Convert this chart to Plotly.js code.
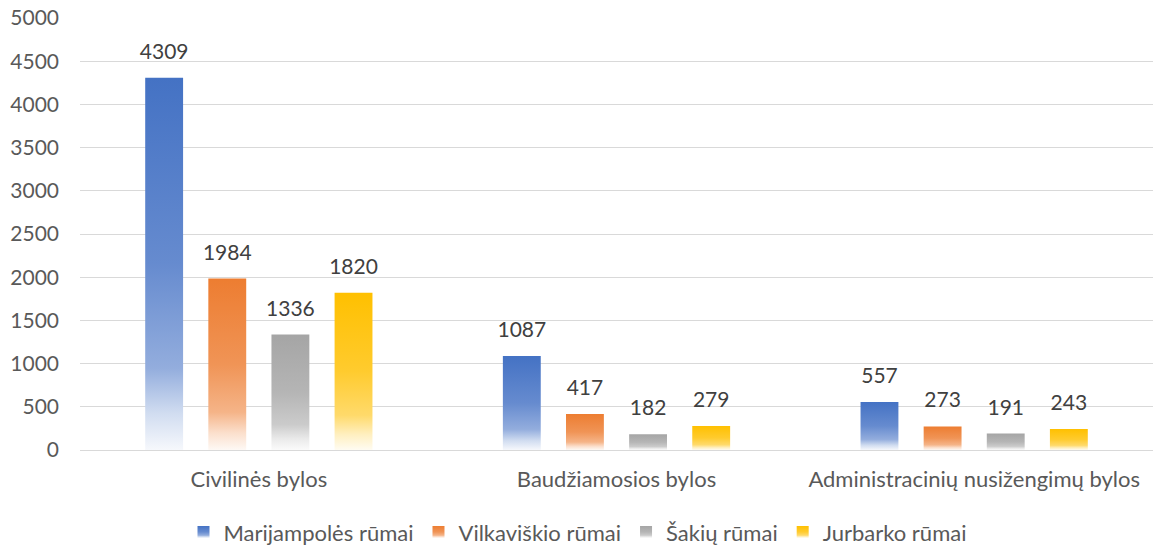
<!DOCTYPE html>
<html>
<head>
<meta charset="utf-8">
<script src="https://cdn.plot.ly/plotly-3.0.1.min.js"></script>
<style>
  html, body { margin: 0; padding: 0; background: #ffffff; }
  #chart { width: 1155px; height: 548px; }
</style>
</head>
<body>
<div id="chart"></div>
<script>
const categories = ['Civilinės bylos', 'Baudžiamosios bylos', 'Administracinių nusižengimų bylos'];
const seriesNames = ['Marijampolės rūmai', 'Vilkaviškio rūmai', 'Šakių rūmai', 'Jurbarko rūmai'];
const marijampole = [4309, 1087, 557];
const vilkaviskis = [1984, 417, 273];
const sakiai = [1336, 182, 191];
const jurbarkas = [1820, 279, 243];
const seriesValues = [marijampole, vilkaviskis, sakiai, jurbarkas];
const seriesColors = ['#4472C4', '#ED7D31', '#A5A5A5', '#FFC000'];
const yTicks = [0, 500, 1000, 1500, 2000, 2500, 3000, 3500, 4000, 4500, 5000];

const FONT = 'Lato, "Open Sans", sans-serif';

const traces = seriesValues.map((vals, i) => ({
  type: 'bar',
  name: seriesNames[i],
  x: categories,
  y: vals,
  text: vals.map(String),
  textposition: 'outside',
  constraintext: 'none',
  cliponaxis: false,
  textfont: { family: FONT, size: 21, color: '#404040' },
  marker: { color: seriesColors[i], line: { width: 0 } },
  hoverinfo: 'skip'
}));

const layout = {
  width: 1155,
  height: 548,
  margin: { l: 80, r: 2, t: 18, b: 98 },
  paper_bgcolor: '#ffffff',
  plot_bgcolor: '#ffffff',
  barmode: 'group',
  bargap: 0.294,
  bargroupgap: 0.4,
  font: { family: FONT, size: 21, color: '#595959' },
  showlegend: true,
  legend: {
    orientation: 'h',
    x: 0.5, xanchor: 'center', xref: 'container',
    y: 0.029, yanchor: 'middle', yref: 'container',
    font: { family: FONT, size: 22, color: '#595959' },
    itemclick: false
  },
  xaxis: {
    type: 'category',
    automargin: false,
    showgrid: false,
    showline: false,
    ticks: '',
    tickfont: { family: FONT, size: 22, color: '#595959' },
    ticklabelstandoff: 14,
    fixedrange: true
  },
  yaxis: {
    range: [0, 5000],
    automargin: false,
    tickvals: yTicks,
    ticktext: yTicks.map(String),
    showgrid: true,
    gridcolor: '#D9D9D9',
    gridwidth: 1,
    zeroline: true,
    zerolinecolor: '#D9D9D9',
    zerolinewidth: 1,
    showline: false,
    ticks: '',
    tickfont: { family: FONT, size: 21, color: '#595959' },
    ticklabelstandoff: 20,
    fixedrange: true
  }
};

function mix(hex, t) {
  const r = parseInt(hex.slice(1, 3), 16), g = parseInt(hex.slice(3, 5), 16), b = parseInt(hex.slice(5, 7), 16);
  const f = c => Math.round(c * t + 255 * (1 - t));
  return `rgb(${f(r)},${f(g)},${f(b)})`;
}

Plotly.newPlot('chart', traces, layout, { displayModeBar: false, staticPlot: true }).then(() => {
  const NS = 'http://www.w3.org/2000/svg';
  const svg = document.querySelector('#chart .main-svg');
  let defs = svg.querySelector('defs');
  if (!defs) { defs = document.createElementNS(NS, 'defs'); svg.insertBefore(defs, svg.firstChild); }
  seriesColors.forEach((c, i) => {
    const lg = document.createElementNS(NS, 'linearGradient');
    lg.setAttribute('id', 'barGrad' + i);
    lg.setAttribute('x1', '0'); lg.setAttribute('y1', '0');
    lg.setAttribute('x2', '0'); lg.setAttribute('y2', '1');
    [[0, 1], [0.5, 0.82], [0.78, 0.58], [0.9, 0.25], [1, 0.05]].forEach(([o, t]) => {
      const s = document.createElementNS(NS, 'stop');
      s.setAttribute('offset', o);
      s.setAttribute('stop-color', mix(c, t));
      lg.appendChild(s);
    });
    defs.appendChild(lg);
  });
  document.querySelectorAll('#chart .barlayer .trace').forEach((tr, i) => {
    tr.querySelectorAll('.point path').forEach(p => { p.style.fill = `url(#barGrad${i})`; });
    tr.querySelectorAll('.point text').forEach(t => {
      t.setAttribute('transform', 'translate(0,-12) ' + (t.getAttribute('transform') || ''));
    });
  });
  document.querySelectorAll('#chart .legend .traces').forEach((tr, i) => {
    tr.querySelectorAll('.legendpoints path').forEach(p => { p.style.fill = `url(#barGrad${i})`; p.style.stroke = 'none'; });
  });
});
</script>
</body>
</html>
